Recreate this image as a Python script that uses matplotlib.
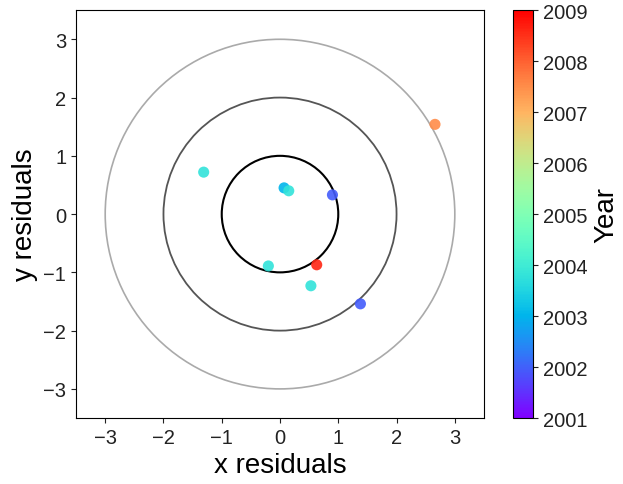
import matplotlib
matplotlib.use("Agg")
from matplotlib import pyplot as plt
from matplotlib.patches import Circle
import numpy as np

plt.rcParams['font.family'] = ['Liberation Sans', 'DejaVu Sans']

# residuals
x_res = [-1.31, 2.66, 0.07, 0.15, 0.90, -0.20, 0.63, 0.53, 1.38]
y_res = [0.72, 1.54, 0.45, 0.40, 0.33, -0.89, -0.87, -1.23, -1.54]
years = [2003.8, 2007.5, 2003.0, 2003.8, 2001.95, 2003.8, 2008.6, 2003.8, 2001.95]

radii = [1, 2, 3]
ring_colors = ['black', '#555555', '#aaaaaa']
ring_widths = [1.5, 1.3, 1.2]

fig = plt.figure(figsize=(6.23, 4.85), dpi=100)
ax = fig.add_axes([0.1196, 0.136, 0.6597, 0.841])
cax = fig.add_axes([0.8234, 0.136, 0.0321, 0.841])

for r, c, lw in zip(radii, ring_colors, ring_widths):
    ax.add_patch(Circle((0, 0), r, fill=False, edgecolor=c, linewidth=lw))

sc = ax.scatter(x_res, y_res, c=years, cmap='rainbow', vmin=2001, vmax=2009,
                s=64, alpha=0.9, edgecolors='none', zorder=3)

ax.set_xlim(-3.5, 3.5)
ax.set_ylim(-3.5, 3.5)
ax.set_aspect('equal')
ax.set_xticks([-3, -2, -1, 0, 1, 2, 3])
ax.set_yticks([-3, -2, -1, 0, 1, 2, 3])
ax.tick_params(labelsize=14.5, colors='#222222')
ax.set_xlabel('x residuals', fontsize=20)
ax.set_ylabel('y residuals', fontsize=20)

cb = fig.colorbar(sc, cax=cax)
cb.solids.set_alpha(1)
cb.set_ticks(range(2001, 2010))
cb.ax.tick_params(labelsize=14.5, colors='#222222')
cb.set_label('Year', fontsize=20)

plt.savefig('out.png', dpi=100)
